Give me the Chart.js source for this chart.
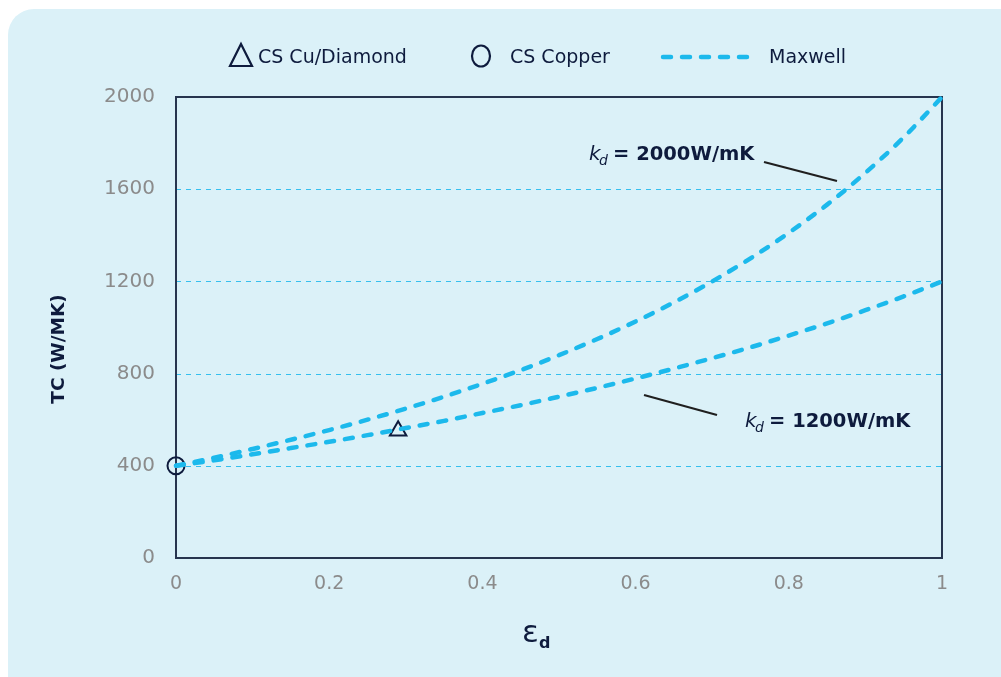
<!DOCTYPE html>
<html>
<head>
<meta charset="utf-8">
<script src="https://cdn.jsdelivr.net/npm/chart.js@4/dist/chart.umd.min.js"></script>
<style>
  html, body { margin: 0; padding: 0; background: #ffffff; width: 1001px; height: 677px; overflow: hidden; }
  #bg { position: absolute; left: 8px; top: 9px; width: 1040px; height: 720px; background: #dbf1f8; border-radius: 26px; }
  #wrap { position: absolute; left: 0; top: 0; width: 1001px; height: 677px; }
</style>
</head>
<body>
<div id="bg"></div>
<div id="wrap"><canvas id="c" width="1001" height="677"></canvas></div>
<script>
// ---- data ----
const epsilon = [0, 0.05, 0.1, 0.15, 0.2, 0.25, 0.3, 0.35, 0.4, 0.45, 0.5, 0.55, 0.6, 0.65, 0.7, 0.75, 0.8, 0.85, 0.9, 0.95, 1];
const maxwell2000 = [400, 435, 473, 513, 555, 600, 648, 700, 756, 815, 880, 950, 1026, 1109, 1200, 1300, 1411, 1533, 1671, 1825, 2000];
const maxwell1200 = [400, 424, 450, 477, 504, 533, 564, 595, 629, 663, 700, 738, 779, 822, 867, 914, 965, 1018, 1075, 1135, 1200];
const csCuDiamond = [{ x: 0.29, y: 552 }];
const csCopper = [{ x: 0, y: 400 }];
const yTicks = [0, 400, 800, 1200, 1600, 2000];
const gridValues = [400, 800, 1200, 1600];
const xTicks = [0, 0.2, 0.4, 0.6, 0.8, 1];
const legendLabels = ['CS Cu/Diamond', 'CS Copper', 'Maxwell'];
const annot2000 = '= 2000W/mK';
const annot1200 = '= 1200W/mK';
const yTitle = 'TC (W/MK)';

const NAVY = '#0e1b3d';
const CYAN = '#1cb9ec';
const GRID = '#35bfee';
const FONT = '"DejaVu Sans"';

const toXY = (xs, ys) => xs.map((x, i) => ({ x: x, y: ys[i] }));

const decor = {
  id: 'decor',
  beforeDatasetsDraw(chart) {
    const { ctx, chartArea: a } = chart;
    const ys = chart.scales.y;
    ctx.save();
    ctx.strokeStyle = GRID;
    ctx.lineWidth = 1;
    ctx.setLineDash([5, 5]);
    gridValues.forEach(v => {
      const py = Math.round(ys.getPixelForValue(v)) + 0.5;
      ctx.beginPath(); ctx.moveTo(a.left, py); ctx.lineTo(a.right, py); ctx.stroke();
    });
    ctx.setLineDash([]);
    ctx.strokeStyle = '#27354f';
    ctx.lineWidth = 2;
    ctx.strokeRect(a.left, a.top, a.right - a.left, a.bottom - a.top);
    ctx.restore();
  },
  afterDraw(chart) {
    const { ctx } = chart;
    ctx.save();
    // legend
    ctx.fillStyle = NAVY;
    ctx.strokeStyle = NAVY;
    ctx.lineWidth = 2.2;
    ctx.beginPath();
    ctx.moveTo(241, 44); ctx.lineTo(252, 66); ctx.lineTo(230, 66); ctx.closePath();
    ctx.stroke();
    ctx.beginPath();
    ctx.ellipse(481, 56, 9, 10.5, 0, 0, Math.PI * 2);
    ctx.stroke();
    ctx.strokeStyle = CYAN;
    ctx.lineWidth = 4.5;
    ctx.lineCap = 'round';
    ctx.setLineDash([8, 11]);
    ctx.beginPath(); ctx.moveTo(663, 57); ctx.lineTo(752, 57); ctx.stroke();
    ctx.setLineDash([]);
    ctx.font = '19px ' + FONT;
    ctx.textBaseline = 'alphabetic';
    ctx.fillText(legendLabels[0], 258, 63);
    ctx.fillText(legendLabels[1], 510, 63);
    ctx.fillText(legendLabels[2], 769, 63);

    // annotations
    const ann = (x, y, txt) => {
      ctx.fillStyle = NAVY;
      ctx.font = 'italic 20px ' + FONT;
      ctx.fillText('k', x, y);
      ctx.font = 'italic 14px ' + FONT;
      ctx.fillText('d', x + 10, y + 5);
      ctx.font = 'bold 19.5px ' + FONT;
      ctx.fillText(txt, x + 24, y);
    };
    ann(589, 160, annot2000);
    ann(745, 427, annot1200);
    ctx.strokeStyle = '#1f1f1f';
    ctx.lineWidth = 2.2;
    ctx.lineCap = 'butt';
    ctx.beginPath(); ctx.moveTo(764, 162); ctx.lineTo(837, 181); ctx.stroke();
    ctx.beginPath(); ctx.moveTo(644, 395); ctx.lineTo(717, 415); ctx.stroke();

    // axis titles
    ctx.fillStyle = NAVY;
    ctx.font = 'bold 18.5px ' + FONT;
    ctx.save();
    ctx.translate(64, 349);
    ctx.rotate(-Math.PI / 2);
    ctx.textAlign = 'center';
    ctx.fillText(yTitle, 0, 0);
    ctx.restore();
    ctx.font = '31px ' + FONT;
    ctx.fillText('ε', 522, 642);
    ctx.font = 'bold 16px ' + FONT;
    ctx.fillText('d', 539, 648);
    ctx.restore();
  }
};

new Chart(document.getElementById('c'), {
  type: 'line',
  data: {
    datasets: [
      {
        label: legendLabels[2] + ' 2000', data: toXY(epsilon, maxwell2000),
        borderColor: CYAN, borderWidth: 4.5, borderDash: [8, 11], borderCapStyle: 'round',
        pointRadius: 0, tension: 0.4, cubicInterpolationMode: 'monotone', fill: false, clip: false
      },
      {
        label: legendLabels[2] + ' 1200', data: toXY(epsilon, maxwell1200),
        borderColor: CYAN, borderWidth: 4.5, borderDash: [8, 11], borderCapStyle: 'round',
        pointRadius: 0, tension: 0.4, cubicInterpolationMode: 'monotone', fill: false, clip: false
      },
      {
        type: 'scatter', label: legendLabels[0], data: csCuDiamond,
        pointStyle: 'triangle', pointRadius: 9.5, borderColor: NAVY, backgroundColor: 'rgba(0,0,0,0)',
        pointBorderWidth: 2, showLine: false, clip: false
      },
      {
        type: 'scatter', label: legendLabels[1], data: csCopper,
        pointStyle: 'circle', pointRadius: 8.5, borderColor: NAVY, backgroundColor: 'rgba(0,0,0,0)',
        pointBorderWidth: 2, showLine: false, clip: false
      }
    ]
  },
  options: {
    responsive: false,
    animation: false,
    devicePixelRatio: 1,
    layout: { padding: { left: 0, top: 97, right: 59, bottom: 0 } },
    plugins: { legend: { display: false }, tooltip: { enabled: false }, title: { display: false } },
    scales: {
      x: {
        type: 'linear', min: 0, max: 1,
        afterFit: s => { s.height = 119; },
        afterBuildTicks: s => { s.ticks = xTicks.map(v => ({ value: v })); },
        border: { display: false },
        grid: { display: false, drawTicks: false },
        ticks: { padding: 15, color: '#8b8b8b', font: { family: 'DejaVu Sans', size: 19 },
                 callback: v => String(v), maxRotation: 0 }
      },
      y: {
        type: 'linear', min: 0, max: 2000,
        afterFit: s => { s.width = 176; },
        afterBuildTicks: s => { s.ticks = yTicks.map(v => ({ value: v })); },
        border: { display: false },
        grid: { display: false, drawTicks: false },
        ticks: { padding: 21, color: '#8b8b8b', font: { family: 'DejaVu Sans', size: 20 },
                 callback: v => String(v) }
      }
    }
  },
  plugins: [decor]
});
</script>
</body>
</html>
